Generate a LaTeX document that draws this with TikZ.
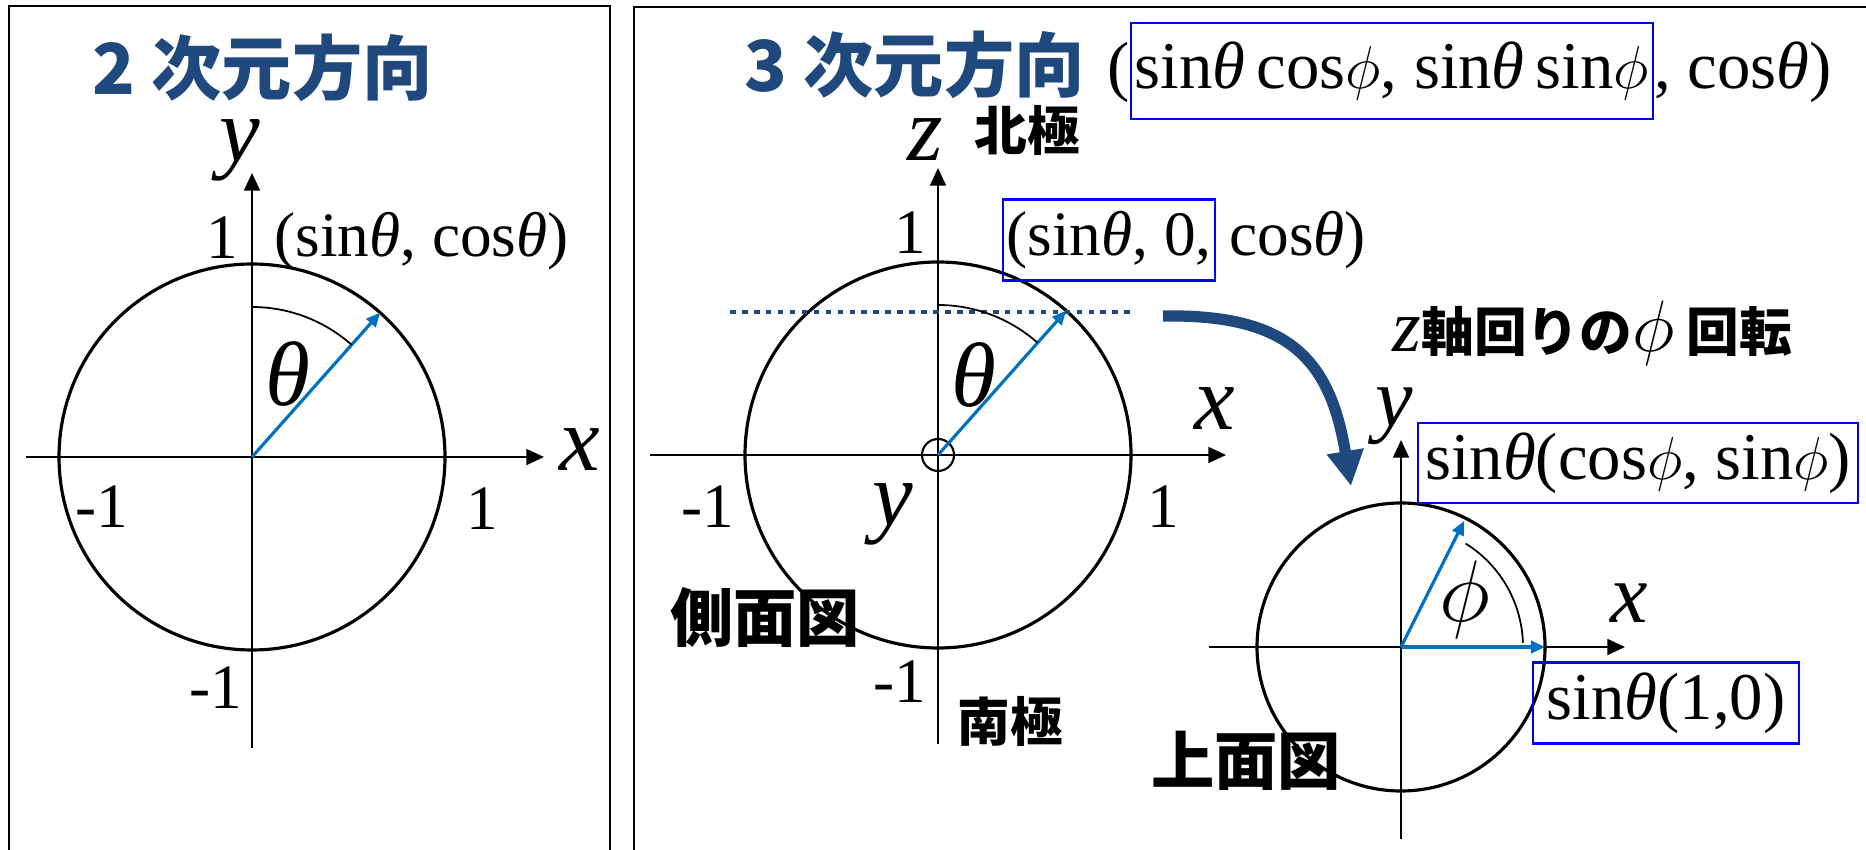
\documentclass[tikz,border=0pt]{standalone}
\usepackage{fontspec}
\setmainfont{Liberation Serif}
\newfontfamily\jp{Noto Sans CJK JP}
\usetikzlibrary{arrows.meta,positioning}
\definecolor{ttlblue}{RGB}{31,73,125}
\definecolor{vecblue}{RGB}{0,112,192}
\newcommand{\fs}[1]{\fontsize{#1}{#1}\selectfont}
\newcommand{\tht}{\textit{θ}}

\begin{document}
\begin{tikzpicture}[inner sep=0pt,
   ax/.style={line width=0.6pt,-{Triangle[length=5pt,width=4.5pt]}},
   rim/.style={line width=0.9pt},
   vec/.style={vecblue,line width=0.9pt,-{Triangle[length=4pt,width=3.5pt]}},
   bx/.style={draw=blue,line width=0.6pt,minimum height=0.8cm,inner xsep=2pt},
   ttl/.style={font=\jp\bfseries\fs{20},text=ttlblue},
   jl/.style={font=\jp\bfseries\fs{15}},
   num/.style={font=\fs{18}},
   var/.style={font=\fs{26}\itshape}]
  \useasboundingbox (0,0) rectangle (18.66,-8.5);
  \clip (0,0) rectangle (18.66,-8.5);
  % frames
  \draw[line width=0.6pt] (0.09,-8.7) |- (6.10,-0.06) -- (6.10,-8.7);
  \draw[line width=0.6pt] (6.34,-8.7) |- (18.8,-0.07);

  % 2D
  \node[ttl,anchor=west] (t2) at (0.92,-0.68) {2 次元方向};
  \coordinate (o2) at (2.52,-4.57);
  \coordinate (x2a) at (0.26,-4.57);
  \coordinate (x2b) at (5.44,-4.57);
  \coordinate (y2a) at (2.52,-7.48);
  \coordinate (y2b) at (2.52,-1.73);
  \path (o2) ++(48.4:1.93) coordinate (p2);
  \draw[rim] (o2) circle (1.93);
  \draw[ax] (x2a) -- (x2b);
  \draw[ax] (y2a) -- (y2b);
  \draw[vec] (o2) -- (p2);
  \draw[line width=0.5pt] (o2) ++(90:1.5) arc[start angle=90,end angle=48.4,radius=1.5];
  \node[var] (th2) at (2.88,-3.74) {θ};
  \node[var] (ly2) at (2.40,-1.50) {y};
  \node[var] (lx2) at (5.80,-4.50) {x};
  \node[num] (n2t) at (2.22,-2.38) {1};
  \node[num,anchor=west] (pt2) at (2.74,-2.41) {(sin\tht, cos\tht)};
  \node[num] (n2l) at (1.02,-5.07) {-1};
  \node[num] (n2r) at (4.82,-5.09) {1};
  \node[num] (n2b) at (2.16,-6.88) {-1};

  % 3D, side view
  \node[ttl,anchor=west] (t3) at (7.44,-0.65) {3 次元方向};
  \coordinate (o3) at (9.38,-4.55);
  \coordinate (x3a) at (6.50,-4.55);
  \coordinate (x3b) at (12.26,-4.55);
  \coordinate (z3a) at (9.38,-7.44);
  \coordinate (z3b) at (9.38,-1.68);
  \coordinate (d3a) at (7.30,-3.12);
  \coordinate (d3b) at (11.30,-3.12);
  \path (o3) ++(48.4:1.93) coordinate (p3);
  \draw[rim] (o3) circle (1.93);
  \draw[line width=0.6pt] (o3) circle (0.16);
  \draw[ax] (x3a) -- (x3b);
  \draw[ax] (z3a) -- (z3b);
  \draw[vec] (o3) -- (p3);
  \draw[ttlblue,line width=1.2pt,dash pattern=on 1.6pt off 1.8pt] (d3a) -- (d3b);
  \draw[line width=0.5pt] (o3) ++(90:1.5) arc[start angle=90,end angle=48.4,radius=1.5];
  \node[var] (th3) at (9.74,-3.75) {θ};
  \node[var] (lx3) at (12.15,-4.09) {x};
  \node[var] (ly3) at (8.93,-5.14) {y};
  \node[var] (lz3) at (9.25,-1.40) {z};
  \node[jl] (np) at (10.27,-1.30) {北極};
  \node[jl] (sp) at (10.10,-7.21) {南極};
  \node[jl,font=\jp\bfseries\fs{18}] (side) at (7.65,-6.17) {側面図};
  \node[num] (n3t) at (9.10,-2.33) {1};
  \node[num] (n3l) at (7.08,-5.07) {-1};
  \node[num] (n3r) at (11.63,-5.07) {1};
  \node[num] (n3b) at (9.00,-6.82) {-1};
  \node[num,bx,anchor=west,minimum height=0.81cm,inner xsep=1pt] (q0) at (10.02,-2.40) {(sin\tht, 0,};
  \node[num,anchor=base west] (q1) at (q0.base east) {\hspace{0.2em}cos\tht)};

  % top formula
  \node[bx,font=\fs{19},anchor=west,minimum height=0.96cm,inner xsep=1pt] (r1) at (11.30,-0.71)
       {sin\tht\,cos$\phi$, sin\tht\,sin$\phi$};
  \node[font=\fs{19},anchor=base east] (r0) at (r1.base west) {(};
  \node[font=\fs{19},anchor=base west] (r2) at (r1.base east) {, cos\tht)};

  % rotation
  \coordinate (rs) at (11.63,-3.16);
  \coordinate (re) at (13.51,-4.86);
  \draw[ttlblue,line width=3.2pt,-{Triangle[length=10pt,width=10pt]}]
       (rs) .. controls (12.9,-3.14) and (13.3,-3.6) .. (re);
  \node[jl,anchor=west] (rot) at (13.92,-3.33)
       {{\rmfamily\mdseries\itshape\fs{21}z}軸回りの{\fs{20}$\phi$} 回転};

  % 3D, top view
  \coordinate (o4) at (14.01,-6.47);
  \coordinate (x4a) at (12.09,-6.47);
  \coordinate (x4b) at (16.25,-6.47);
  \coordinate (y4a) at (14.01,-8.39);
  \coordinate (y4b) at (14.01,-4.40);
  \path (o4) ++(63.4:1.41) coordinate (p4);
  \path (o4) ++(0:1.44) coordinate (q4);
  \draw[rim] (o4) circle (1.44);
  \draw[ax] (x4a) -- (x4b);
  \draw[ax] (y4a) -- (y4b);
  \draw[vec] (o4) -- (p4);
  \draw[vec] (o4) -- (q4);
  \draw[line width=0.5pt] (o4) ++(58:1.22) arc[start angle=58,end angle=2,radius=1.22];
  \node[var,font=\fs{24}] (ph4) at (14.65,-6.00) {$\phi$};
  \node[var,font=\fs{24}\itshape] (lx4) at (16.29,-6.03) {x};
  \node[var,font=\fs{24}\itshape] (ly4) at (13.94,-4.16) {y};
  \node[num,bx,font=\fs{19},anchor=west,inner xsep=2pt] (s1) at (14.17,-4.63)
       {sin\tht(cos$\phi$, sin$\phi$)};
  \node[num,bx,font=\fs{19},minimum height=0.81cm,inner xsep=4pt] (s2) at (16.66,-7.03)
       {sin\tht(1,0)};
  \node[jl,font=\jp\bfseries\fs{18}] (top) at (12.46,-7.61) {上面図};
\end{tikzpicture}
\end{document}
